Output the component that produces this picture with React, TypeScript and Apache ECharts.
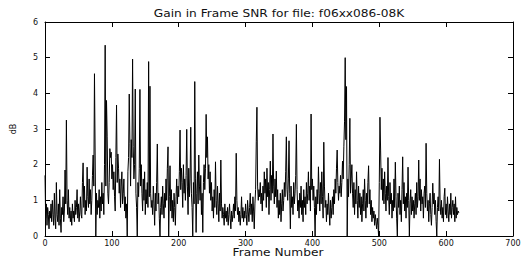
import React, { useEffect, useRef } from "react";
import * as echarts from "echarts";

const TITLE = "Gain in Frame SNR for file: f06xx086-08K";
const X_LABEL = "Frame Number";
const Y_LABEL = "dB";
const X_TICKS = [0, 100, 200, 300, 400, 500, 600, 700];
const Y_TICKS = [0, 1, 2, 3, 4, 5, 6];

// Gain in frame SNR (dB), frames 0..619
const gainDb: number[] = [
  1.7, 0.5, 0.9, 0.3, 0.8, 0.6, 0.2, 0.7, 0.5, 0.9,
  0.4, 1.0, 0.6, 0.3, 1.2, 0.5, 0.2, 1.5, 0.6, 0.4,
  0.9, 0.3, 1.3, 0.5, 0.1, 0.8, 0.6, 1.1, 0.4, 0.7,
  1.85, 0.9, 3.25, 1.0, 0.6, 1.3, 0.5, 0.8, 0.4, 0.7,
  0.3, 0.9, 0.5, 0.7, 0.4, 1.0, 0.6, 0.8, 1.3, 0.5,
  0.9, 0.4, 0.7, 1.1, 0.6, 0.5, 1.5, 2.05, 0.8, 1.4,
  0.6, 1.0, 0.7, 1.93, 1.1, 0.8, 1.6, 0.9, 1.3, 0.6,
  1.0, 1.7, 2.27, 1.4, 4.55, 2.27, 0.0, 1.2, 0.6, 1.0,
  0.8, 1.3, 0.5, 1.1, 0.7, 1.5, 0.9, 1.2, 0.6, 2.0,
  5.35, 1.4, 3.8, 2.8, 1.2, 0.9, 1.5, 2.45, 2.2, 2.35,
  1.6, 2.0, 1.3, 1.8, 1.1, 0.7, 2.2, 3.67, 1.5, 2.3,
  1.9, 1.2, 1.6, 0.8, 1.4, 1.8, 0.9, 1.2, 1.6, 0.7,
  1.1, 0.5, 0.9, 0.0, 1.8, 2.2, 3.98, 2.6, 1.4, 2.7,
  2.2, 4.96, 2.5, 1.6, 2.0, 4.12, 1.2, 0.8, 0.0, 1.5,
  1.1, 1.9, 4.11, 1.4, 2.0, 1.2, 0.7, 1.6, 1.0, 1.8,
  0.6, 1.3, 0.9, 1.5, 0.8, 4.89, 1.1, 4.2, 1.2, 0.8,
  1.0, 0.6, 1.4, 0.9, 0.3, 1.2, 0.7, 1.5, 2.58, 0.9,
  1.2, 0.5, 0.0, 0.8, 1.1, 0.6, 1.4, 0.9, 0.5, 1.2,
  0.8, 1.6, 1.0, 1.9, 2.5, 0.0, 1.1, 1.97, 0.7, 1.3,
  0.5, 1.0, 0.4, 1.2, 0.8, 0.3, 1.1, 1.6, 0.9, 1.4,
  1.1, 1.8, 2.97, 1.3, 1.9, 1.5, 0.8, 2.0, 1.2, 1.6,
  1.0, 1.7, 2.99, 1.4, 0.6, 1.9, 1.1, 1.6, 3.05, 1.2,
  0.8, 0.0, 1.5, 0.9, 4.33, 1.6, 0.1, 1.2, 1.8, 0.9,
  2.27, 1.4, 1.0, 1.7, 0.6, 1.2, 0.1, 1.5, 2.0, 1.3,
  1.9, 3.41, 2.2, 2.78, 1.6, 2.0, 1.2, 1.8, 1.0, 1.5,
  0.7, 1.1, 0.5, 1.3, 0.8, 2.08, 1.0, 0.6, 1.4, 0.9,
  0.4, 1.2, 0.7, 2.13, 0.9, 0.5, 0.8, 0.6, 0.3, 0.9,
  0.5, 0.7, 0.4, 0.8, 0.3, 0.6, 0.9, 0.5, 0.2, 0.7,
  0.4, 0.6, 0.9, 0.5, 1.1, 0.7, 2.32, 1.0, 0.6, 0.8,
  0.4, 0.7, 0.3, 0.6, 1.1, 0.5, 0.8, 0.4, 0.7, 0.5,
  0.9, 0.6, 0.3, 1.0, 0.7, 0.4, 0.8, 1.2, 0.6, 0.9,
  0.4, 1.1, 0.7, 0.2, 0.9, 1.3, 2.64, 3.61, 1.4, 1.0,
  1.3, 1.1, 1.5, 0.9, 1.2, 0.7, 1.4, 1.0, 1.8, 1.2,
  1.6, 0.8, 1.9, 1.1, 1.5, 0.6, 1.3, 2.1, 1.0, 1.7,
  1.2, 2.86, 1.4, 0.9, 1.6, 1.1, 1.82, 0.8, 1.3, 0.5,
  1.0, 0.6, 1.2, 0.4, 0.9, 1.3, 0.7, 1.0, 1.5, 1.1,
  1.8, 2.78, 1.3, 1.0, 1.6, 2.67, 1.2, 0.2, 1.4, 0.8,
  1.1, 0.6, 1.5, 0.9, 1.2, 1.7, 3.13, 1.3, 0.7, 1.0,
  0.5, 1.2, 0.8, 1.4, 0.6, 1.0, 0.4, 1.3, 0.8, 1.1,
  0.6, 1.5, 0.9, 1.2, 1.8, 1.0, 1.4, 0.7, 3.42, 1.3,
  1.6, 1.0, 1.4, 0.8, 0.0, 1.1, 0.6, 1.3, 0.9, 1.94,
  1.2, 0.7, 1.5, 0.9, 1.8, 1.1, 0.5, 2.63, 1.4, 0.8,
  1.0, 0.4, 0.9, 0.6, 1.2, 0.7, 0.3, 1.0, 0.5, 0.8,
  1.1, 0.6, 1.3, 0.9, 1.6, 1.2, 1.9, 2.41, 1.5, 1.0,
  1.4, 1.2, 1.7, 1.1, 1.5, 2.1, 1.6, 2.5, 3.2, 5.0,
  2.7, 4.19, 0.0, 1.6, 1.1, 2.0, 3.3, 1.2, 1.6, 2.0,
  1.2, 0.8, 1.5, 0.6, 1.3, 0.9, 1.8, 1.0, 0.5, 1.4,
  0.8, 1.2, 0.6, 1.1, 0.4, 0.9, 1.3, 0.7, 1.6, 1.0,
  0.5, 1.2, 0.8, 1.5, 1.97, 0.9, 1.3, 0.6, 1.0, 0.4,
  0.8, 0.5, 0.7, 0.3, 0.6, 0.4, 0.2, 0.5, 0.3, 0.0,
  1.5, 3.33, 2.41, 1.3, 1.9, 1.0, 1.6, 0.9, 1.8, 1.2,
  0.7, 1.4, 1.0, 2.2, 1.1, 0.6, 1.5, 0.9, 1.2, 0.5,
  1.0, 0.7, 1.6, 0.8, 2.07, 1.1, 0.5, 0.0, 1.2, 0.8,
  1.4, 0.6, 1.0, 0.4, 1.3, 2.22, 0.9, 1.5, 0.7, 1.1,
  0.5, 1.2, 0.8, 1.93, 1.0, 0.0, 0.9, 1.3, 0.6, 1.1,
  0.7, 1.0, 0.5, 0.9, 1.2, 0.6, 1.5, 0.8, 1.1, 2.13,
  1.0, 1.6, 0.7, 1.3, 0.9, 1.1, 0.5, 1.2, 1.4, 0.8,
  2.6, 1.2, 0.7, 1.0, 0.4, 0.9, 1.2, 0.6, 0.3, 0.8,
  1.48, 0.9, 1.2, 0.6, 1.0, 0.4, 0.0, 0.8, 1.1, 0.7,
  2.15, 0.9, 0.6, 1.0, 0.5, 0.8, 0.4, 1.1, 1.34, 0.6,
  0.9, 0.5, 1.1, 0.7, 0.4, 0.9, 0.6, 1.2, 0.5, 0.8,
  1.0, 0.6, 0.9, 0.4, 1.1, 0.5, 0.8, 0.6, 0.7, 0.65,
];

const FONT = "DejaVu Sans, Liberation Sans, sans-serif";
const AXIS_COLOR = "#000";
const TEXT_COLOR = "#111";

export default function App() {
  const ref = useRef<HTMLDivElement>(null);

  useEffect(() => {
    if (!ref.current) return;
    const chart = echarts.init(ref.current, null, { renderer: "svg" });
    const data = gainDb.map((v, i) => [i, v]);
    const xMin = X_TICKS[0];
    const xMax = X_TICKS[X_TICKS.length - 1];
    const yMin = Y_TICKS[0];
    const yMax = Y_TICKS[Y_TICKS.length - 1];
    const tickStyle = { show: true, inside: true, length: 5, lineStyle: { color: AXIS_COLOR, width: 1 } };
    const lineStyle = { show: true, onZero: false, lineStyle: { color: AXIS_COLOR, width: 1 } };
    chart.setOption({
      animation: false,
      backgroundColor: "#fff",
      grid: { left: 45, right: 14, top: 22, bottom: 21, containLabel: false, outerBoundsMode: "none" },
      graphic: [
        {
          type: "text",
          x: 279,
          y: 13.5,
          scaleX: 1.22,
          style: {
            text: TITLE,
            fill: TEXT_COLOR,
            font: `10px ${FONT}`,
            textAlign: "center",
            textVerticalAlign: "middle",
          },
        },
        {
          type: "text",
          x: 278,
          y: 252.5,
          scaleX: 1.22,
          style: {
            text: X_LABEL,
            fill: TEXT_COLOR,
            font: `10px ${FONT}`,
            textAlign: "center",
            textVerticalAlign: "middle",
          },
        },
        {
          type: "text",
          x: 13,
          y: 129,
          rotation: Math.PI / 2,
          style: {
            text: Y_LABEL,
            fill: TEXT_COLOR,
            font: `8px ${FONT}`,
            textAlign: "center",
            textVerticalAlign: "middle",
          },
        },
      ],
      xAxis: [
        {
          type: "value",
          position: "bottom",
          min: xMin,
          max: xMax,
          interval: 100,
          axisLine: lineStyle,
          axisTick: tickStyle,
          axisLabel: { fontFamily: FONT, fontSize: 8, color: TEXT_COLOR, margin: 3 },
          splitLine: { show: false },
        },
        {
          type: "value",
          position: "top",
          min: xMin,
          max: xMax,
          interval: 100,
          axisLine: lineStyle,
          axisTick: tickStyle,
          axisLabel: { show: false },
          splitLine: { show: false },
        },
      ],
      yAxis: [
        {
          type: "value",
          position: "left",
          min: yMin,
          max: yMax,
          interval: 1,
          axisLine: lineStyle,
          axisTick: tickStyle,
          axisLabel: { fontFamily: FONT, fontSize: 8, color: TEXT_COLOR, margin: 7 },
          splitLine: { show: false },
        },
        {
          type: "value",
          position: "right",
          min: yMin,
          max: yMax,
          interval: 1,
          axisLine: lineStyle,
          axisTick: tickStyle,
          axisLabel: { show: false },
          splitLine: { show: false },
        },
      ],
      series: [
        {
          type: "line",
          xAxisIndex: 0,
          yAxisIndex: 0,
          data,
          showSymbol: false,
          symbol: "none",
          lineStyle: { color: "#000", width: 1 },
        },
      ],
    });
    return () => chart.dispose();
  }, []);

  return (
    <div
      ref={ref}
      style={{ position: "fixed", left: 0, top: 0, width: 527, height: 257, background: "#fff" }}
    />
  );
}
